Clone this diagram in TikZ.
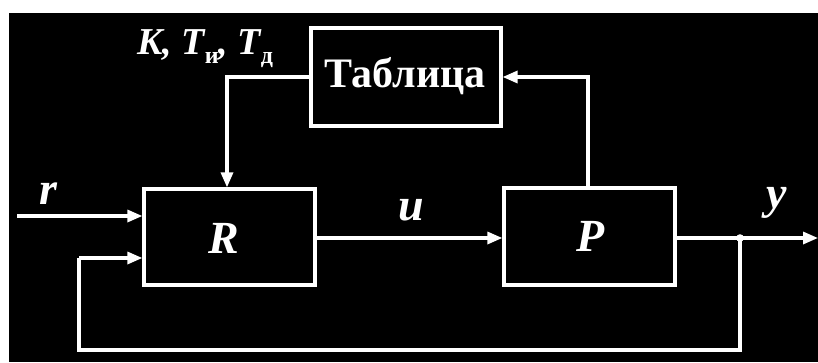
\documentclass[tikz,border=0pt]{standalone}
\usepackage{fontspec}
\setmainfont{Liberation Serif}
\usetikzlibrary{arrows.meta}
\begin{document}
\begin{tikzpicture}[x=1pt,y=-1pt,
  blk/.style={draw=white,line width=3.2pt,inner sep=0pt},
  wire/.style={draw=white,line width=3.2pt},
  arr/.style={wire,-{Triangle[length=15pt,width=12pt]}},
  lbl/.style={text=white,inner sep=0pt,font=\fontsize{46}{46}\selectfont\bfseries\itshape}]
\useasboundingbox (0,0) rectangle (818,362);
\fill[white] (0,0) rectangle (818,362);
\fill[black] (9,13) rectangle (818,362);
% blocks
\node[blk,minimum width=190pt,minimum height=98pt] (tab) at (406,77) {};
\node[text=white,inner sep=0pt,font=\fontsize{42}{42}\selectfont\bfseries] (tabt) at (405,76) {Таблица};
\node[blk,minimum width=171pt,minimum height=96pt] (R) at (229.5,237) {};
\node[blk,minimum width=171pt,minimum height=97pt] (P) at (589.5,236.5) {};
\node[lbl] (Rl) at (224,238) {R};
\node[lbl] (Pl) at (591,236) {P};
% coordinates
\coordinate (rin) at (17,216);
\coordinate (tl) at (227,77);
\coordinate (pr) at (588,77);
\coordinate (yout) at (818,238);
\coordinate (j) at (740,238);
\coordinate (bl) at (79,350);
\coordinate (br) at (740,350);
\coordinate (fb) at (79,258);
% connectors
\draw[arr] (rin) -- (rin -| R.west);
\draw[arr] (tab.west |- tl) -- (tl) -- (tl |- R.north);
\draw[arr] (pr |- P.north) -- (pr) -- (pr -| tab.east);
\draw[arr] (R.east |- j) -- (j -| P.west);
\draw[arr] (P.east |- j) -- (yout);
\draw[wire] (j) -- (br) -- (bl) -- (fb);
\draw[arr] (fb) -- (fb -| R.west);
\fill[white] (j) circle (3.8pt);
% labels
\node[lbl] (rl) at (48,194) {r};
\node[lbl] (ul) at (411,210) {u};
\node[lbl] (yl) at (777,203) {y};
\node[text=white,inner sep=0pt,anchor=base west,font=\fontsize{38}{38}\selectfont\bfseries\itshape] (kl) at (137,54)
  {K, T\raisebox{-9pt}{\upshape\fontsize{24}{24}\selectfont и}, T\raisebox{-9pt}{\upshape\fontsize{24}{24}\selectfont д}};
\end{tikzpicture}
\end{document}
